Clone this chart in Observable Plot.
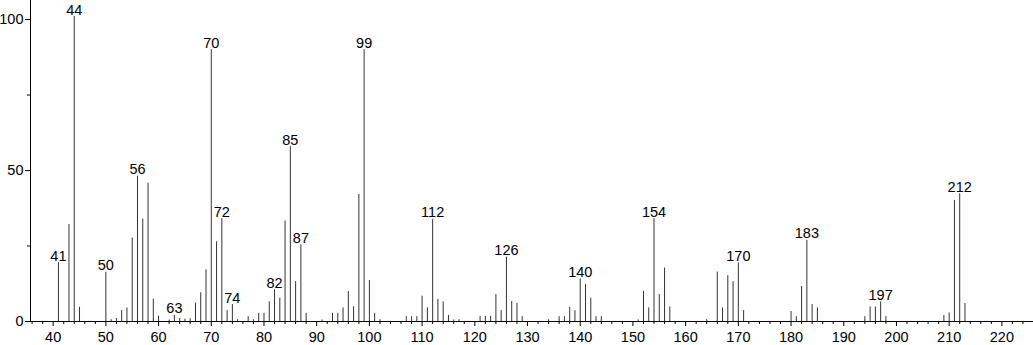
<!DOCTYPE html>
<html>
<head>
<meta charset="utf-8">
<script src="https://cdn.jsdelivr.net/npm/d3@7"></script>
<script src="https://cdn.jsdelivr.net/npm/@observablehq/plot@0.6"></script>
<style>
  html, body { margin: 0; padding: 0; background: #fff; }
</style>
</head>
<body>
<div id="chart"></div>
<script>
const mz = [41,43,44,45,50,51,52,53,54,55,56,57,58,59,60,62,63,64,65,66,67,68,69,70,71,72,73,74,75,77,78,79,80,81,82,83,84,85,86,87,88,91,93,94,95,96,97,98,99,100,101,102,107,108,109,110,111,112,113,114,115,116,117,121,122,123,124,125,126,127,128,129,134,136,137,138,139,140,141,142,143,144,151,152,153,154,155,156,157,164,166,167,168,169,170,171,180,181,182,183,184,185,194,195,196,197,198,209,210,211,212,213];
const intensity = [19.5,32.1,101,4.7,16.3,0.6,1,3.6,4.5,27.6,48.1,33.9,45.8,7.4,1.8,0.5,2.0,1.0,0.8,0.9,6.1,9.5,17.1,90,26.4,34.1,3.6,5.6,0.6,1.6,0.6,2.7,2.7,6.5,10.5,7.7,33.3,57.9,13.2,25.4,2.7,0.5,2.7,2.7,4.5,9.9,4.9,42.1,90,13.6,2.7,0.6,1.6,1.6,1.6,8.4,4.5,33.8,7.3,6.5,2.0,0.5,0.6,1.7,1.7,1.7,8.9,3.6,21.3,6.6,6.0,1.6,0.6,1.6,1.6,4.7,3.6,14.1,12.3,7.7,1.6,1.6,0.5,10.0,4.5,34.1,8.9,17.7,4.8,0.6,16.4,4.5,15.2,13.2,19.4,3.6,3.3,1.6,11.6,26.9,5.6,4.5,1.6,4.8,4.8,6.5,1.6,2.0,2.8,40.1,42.3,6.0];
const labeledPeaks = [41,44,50,56,63,70,72,74,82,85,87,99,112,126,140,154,170,183,197,212];
const xMajorTicks = d3.range(40, 221, 10);
const xMinorTicks = d3.range(36, 226, 2).filter(v => v % 10 !== 0);
const yMajorTicks = [0, 50, 100];
const yMinorTicks = [25, 75];
const xDomain = [35.7, 226];
const yDomain = [0, 106.3];

const peaks = mz.map((m, i) => ({mz: m, intensity: intensity[i]}));
const labels = peaks.filter(d => labeledPeaks.includes(d.mz));

const chart = Plot.plot({
  width: 1033,
  height: 345,
  marginLeft: 30,
  marginRight: 0,
  marginTop: 0,
  marginBottom: 24,
  style: {fontFamily: "'Liberation Sans', Arial, sans-serif", fontSize: "14.5px", color: "#000", background: "#fff"},
  x: {domain: xDomain, label: null},
  y: {domain: yDomain, label: null},
  marks: [
    Plot.axisX({ticks: xMajorTicks, tickSize: 5, tickPadding: 5, fontSize: 14.5, stroke: "#000"}),
    Plot.axisX({ticks: xMinorTicks, tickSize: 3, text: null, stroke: "#000"}),
    Plot.axisY({ticks: yMajorTicks, tickSize: 5, tickPadding: 2, fontSize: 14.5, stroke: "#000"}),
    Plot.axisY({ticks: yMinorTicks, tickSize: 3, text: null, stroke: "#000"}),
    Plot.ruleX(peaks, {x: "mz", y1: 0, y2: "intensity", stroke: "#333", strokeWidth: 1}),
    Plot.ruleY([0], {stroke: "#000"}),
    Plot.ruleX([xDomain[0]], {stroke: "#000"}),
    Plot.text(labels, {x: "mz", y: "intensity", text: d => String(d.mz), lineAnchor: "bottom", dy: -2, fontSize: 14.5, fill: "#000"})
  ]
});
document.getElementById("chart").appendChild(chart);
</script>
</body>
</html>
